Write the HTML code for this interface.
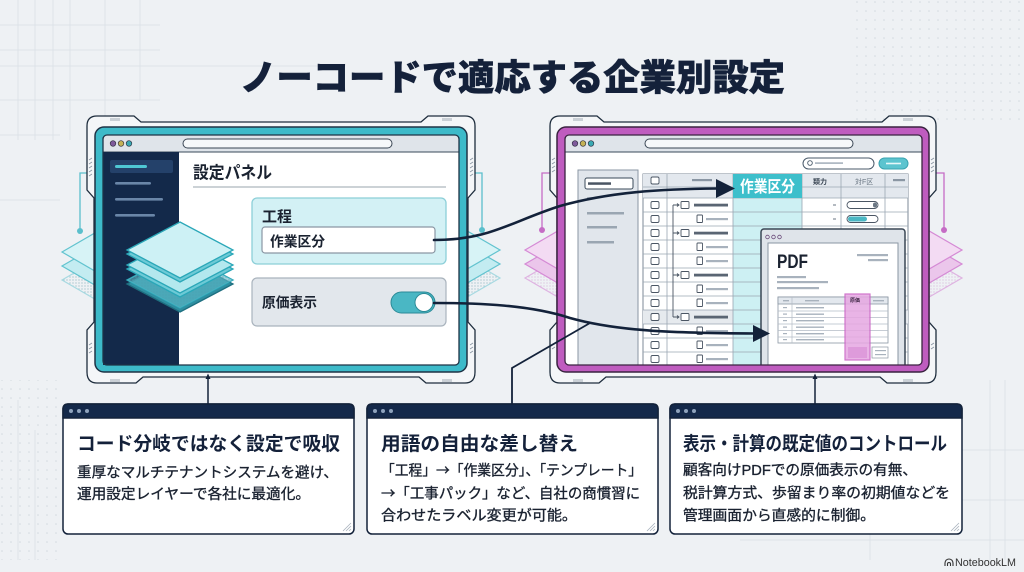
<!DOCTYPE html>
<html><head><meta charset="utf-8"><style>
html,body{margin:0;padding:0;background:#eef1f4;}
svg{display:block;}
text{font-family:"Liberation Sans","Noto Sans CJK JP",sans-serif;}
.body{stroke:#1a2230;stroke-width:0.35;}
.jp{font-family:"Noto Sans CJK JP",sans-serif;}
</style></head><body>
<svg width="1024" height="572" viewBox="0 0 1024 572" xmlns="http://www.w3.org/2000/svg">
<defs>
<pattern id="dots" width="9" height="9" patternUnits="userSpaceOnUse"><circle cx="2" cy="2" r="0.8" fill="#d3d9e0"/></pattern>
<pattern id="fine" width="3" height="3" patternUnits="userSpaceOnUse"><circle cx="1" cy="1" r="0.6" fill="#2f7f8e"/></pattern>
<pattern id="fineP" width="3" height="3" patternUnits="userSpaceOnUse"><circle cx="1" cy="1" r="0.6" fill="#c48bc4"/></pattern>
<clipPath id="rwin"><rect x="565" y="152" width="357" height="213"/></clipPath>
</defs>
<rect width="1024" height="572" fill="#eef1f4"/>
<!-- background grid -->
<g stroke="#dde2e8" stroke-width="1" fill="none">
<path d="M0,25H160M0,50H160M0,66H320M0,100H160M0,135H60M0,200H60M18,0V140M35,0V140M53,0V140M70,0V140M105,0V120M140,0V100M18,400V560M35,430V560"/>
<path d="M990,380V560M1005,380V560M870,440V560M860,450H1024M860,500H1024M740,540H1024"/>
</g>
<rect x="850" y="0" width="174" height="120" fill="url(#dots)"/>
<rect x="0" y="380" width="60" height="180" fill="url(#dots)"/>

<!-- side diamonds -->
<g stroke-width="1.2">
<g stroke="#62c3cf">
<polygon points="62,280 100,258 138,280 100,302" fill="url(#fine)" opacity="0.5"/>
<polygon points="62,266 100,244 138,266 100,288" fill="#c3ecf1"/>
<polygon points="62,252 100,230 138,252 100,274" fill="#d7f3f6"/>
<polygon points="424,278 462,256 500,278 462,300" fill="url(#fine)" opacity="0.5"/>
<polygon points="424,264 462,242 500,264 462,286" fill="#c3ecf1"/>
<polygon points="424,250 462,228 500,250 462,272" fill="#d7f3f6"/>
</g>
<g stroke="#d58ad5">
<polygon points="525,278 563,256 601,278 563,300" fill="url(#fineP)" opacity="0.6"/>
<polygon points="525,264 563,242 601,264 563,286" fill="#ebc6eb"/>
<polygon points="525,250 563,228 601,250 563,272" fill="#f3dbf3"/>
<polygon points="886,278 924,256 962,278 924,300" fill="url(#fineP)" opacity="0.6"/>
<polygon points="886,264 924,242 962,264 924,286" fill="#ebc6eb"/>
<polygon points="886,250 924,228 962,250 924,272" fill="#f3dbf3"/>
</g>
</g>
<!-- connectors with dots -->
<g fill="none" stroke-width="1.3">
<path d="M90,173H80V231" stroke="#5bbfcc"/>
<path d="M472,173H482V230" stroke="#5bbfcc"/>
<path d="M553,173H542V230" stroke="#c56cc5"/>
<path d="M933,173H944V230" stroke="#c56cc5"/>
</g>
<circle cx="80" cy="231" r="3" fill="#5bbfcc"/>
<circle cx="482" cy="230" r="3" fill="#5bbfcc"/>
<circle cx="542" cy="230" r="3" fill="#c56cc5"/>
<circle cx="944" cy="230" r="3" fill="#c56cc5"/>

<!-- bezels -->
<path d="M87,190 L87,126 Q87,116 97,116 L134,116 L141,122 L421,122 L428,116 L465,116 Q475,116 475,126 L475,190 L468,198 L468,322 L475,330 L475,372 Q475,383 465,383 L426,383 L419,377 L143,377 L136,383 L97,383 Q87,383 87,372 L87,330 L94,322 L94,198 Z" fill="#f4f6f8" stroke="#1e2d3d" stroke-width="1.3"/>
<path d="M550,190 L550,126 Q550,116 560,116 L597,116 L604,122 L882,122 L889,116 L926,116 Q936,116 936,126 L936,190 L929,198 L929,322 L936,330 L936,372 Q936,383 926,383 L887,383 L880,377 L606,377 L599,383 L560,383 Q550,383 550,372 L550,330 L557,322 L557,198 Z" fill="#f4f6f8" stroke="#1e2d3d" stroke-width="1.3"/>
<g stroke="#8a96a3" stroke-width="0.8">
<path d="M111,118v3M113,118v3M115,118v3M117,118v3M119,118v3M443,118v3M445,118v3M447,118v3M449,118v3M451,118v3"/>
<path d="M111,379v3M113,379v3M115,379v3M117,379v3M119,379v3M443,379v3M445,379v3M447,379v3M449,379v3M451,379v3"/>
<path d="M574,118v3M576,118v3M578,118v3M580,118v3M582,118v3M904,118v3M906,118v3M908,118v3M910,118v3M912,118v3"/>
<path d="M574,379v3M576,379v3M578,379v3M580,379v3M582,379v3M904,379v3M906,379v3M908,379v3M910,379v3M912,379v3"/>
<path d="M89,160l3,-2M89,164l3,-2M89,168l3,-2M89,172l3,-2M89,176l3,-2M470,160l3,-2M470,164l3,-2M470,168l3,-2M470,172l3,-2M470,176l3,-2M89,345l3,-2M89,349l3,-2M89,353l3,-2M470,345l3,-2M470,349l3,-2M470,353l3,-2"/>
<path d="M552,160l3,-2M552,164l3,-2M552,168l3,-2M552,172l3,-2M931,160l3,-2M931,164l3,-2M931,168l3,-2M931,172l3,-2M552,345l3,-2M552,349l3,-2M931,345l3,-2M931,349l3,-2"/>
</g>

<!-- frames -->
<rect x="95" y="127" width="372" height="245" rx="9" fill="#3dbac9" stroke="#1e3346" stroke-width="1.5"/>
<rect x="557" y="127" width="372" height="245" rx="9" fill="#bf5cbf" stroke="#3a2340" stroke-width="1.5"/>

<!-- LEFT WINDOW -->
<rect x="103" y="135" width="356" height="230" rx="4" fill="#ffffff"/>
<rect x="103" y="135" width="356" height="17" rx="4" fill="#dfe4ea"/>
<rect x="103" y="145" width="356" height="7" fill="#dfe4ea"/>
<line x1="103" y1="152" x2="459" y2="152" stroke="#3a4a5a" stroke-width="1"/>
<rect x="183" y="139" width="209" height="9" rx="4.5" fill="#f6f8fa" stroke="#3a4654" stroke-width="1"/>
<circle cx="113" cy="143.5" r="2.8" fill="#7e5a9a" stroke="#2a2a3a" stroke-width="0.6"/>
<circle cx="121" cy="143.5" r="2.8" fill="#c4b256" stroke="#2a2a3a" stroke-width="0.6"/>
<circle cx="129" cy="143.5" r="2.8" fill="#3aa9b3" stroke="#2a2a3a" stroke-width="0.6"/>
<rect x="103" y="152" width="76" height="213" fill="#13294a"/>
<rect x="110" y="160" width="63" height="13" rx="2" fill="#24416a"/>
<rect x="115" y="165" width="32" height="3" rx="1.5" fill="#4fc7d4"/>
<rect x="115" y="182" width="36" height="2.6" rx="1.3" fill="#6a86a8"/>
<rect x="115" y="198" width="48" height="2.6" rx="1.3" fill="#6a86a8"/>
<rect x="115" y="214" width="40" height="2.6" rx="1.3" fill="#6a86a8"/>
<rect x="103" y="135" width="356" height="230" rx="4" fill="none" stroke="#1e3346" stroke-width="1.3"/>

<text x="193" y="178.5" font-size="17" font-weight="bold" fill="#1a2230" textLength="79" lengthAdjust="spacingAndGlyphs">設定パネル</text>
<line x1="193" y1="187" x2="446" y2="187" stroke="#9aa4ae" stroke-width="1"/>
<rect x="252" y="198" width="194" height="66" rx="5" fill="#d3f1f5" stroke="#8ccfd8" stroke-width="1.3"/>
<text x="262" y="221.5" font-size="15" font-weight="bold" fill="#1a2230">工程</text>
<rect x="262" y="227" width="173" height="26" rx="3" fill="#ffffff" stroke="#8a96a3" stroke-width="1.2"/>
<text x="270" y="246.5" font-size="14" font-weight="bold" fill="#1a2230" textLength="55" lengthAdjust="spacingAndGlyphs">作業区分</text>
<rect x="252" y="278" width="194" height="48" rx="5" fill="#e2e7ec" stroke="#a9b3bd" stroke-width="1.2"/>
<text x="262" y="307.5" font-size="14" font-weight="bold" fill="#1a2230" textLength="55" lengthAdjust="spacingAndGlyphs">原価表示</text>
<rect x="391" y="292" width="44" height="21" rx="10.5" fill="#4ab7c4" stroke="#2b8a97" stroke-width="1"/>
<circle cx="424" cy="302.5" r="9" fill="#ffffff" stroke="#2b8a97" stroke-width="1"/>

<!-- layers stack -->
<g stroke-width="1.3">
<polygon points="127,284 180,256 233,284 180,312" fill="#2e8ea0" stroke="#1e6f80"/>
<polygon points="127,280 180,252 233,280 180,308" fill="url(#fine)" stroke="#2aa7b8"/>
<polygon points="127,280 180,252 233,280 180,308" fill="#5fb9c8" opacity="0.6"/>
<polygon points="127,269 180,241 233,269 180,297" fill="#6dcad6" stroke="#2aa7b8"/>
<polygon points="127,265 180,237 233,265 180,293" fill="#b3e8ee" stroke="#2aa7b8"/>
<polygon points="127,254 180,226 233,254 180,282" fill="#6dcad6" stroke="#2aa7b8"/>
<polygon points="127,250 180,222 233,250 180,278" fill="#cdf1f5" stroke="#2aa7b8"/>
</g>

<!-- RIGHT WINDOW -->
<rect x="565" y="135" width="357" height="230" rx="4" fill="#ffffff"/>
<rect x="565" y="135" width="357" height="17" rx="4" fill="#dfe4ea"/>
<rect x="565" y="145" width="357" height="7" fill="#dfe4ea"/>
<line x1="565" y1="152" x2="922" y2="152" stroke="#3a4a5a" stroke-width="1"/>
<rect x="645" y="139" width="208" height="9" rx="4.5" fill="#f6f8fa" stroke="#3a4654" stroke-width="1"/>
<circle cx="575" cy="143.5" r="2.8" fill="#7e5a9a" stroke="#2a2a3a" stroke-width="0.6"/>
<circle cx="583" cy="143.5" r="2.8" fill="#c4b256" stroke="#2a2a3a" stroke-width="0.6"/>
<circle cx="591" cy="143.5" r="2.8" fill="#3aa9b3" stroke="#2a2a3a" stroke-width="0.6"/>
<g clip-path="url(#rwin)">
<rect x="803" y="158" width="71" height="11" rx="5.5" fill="#ffffff" stroke="#4a5a6a" stroke-width="1"/>
<circle cx="810" cy="163" r="2.3" fill="none" stroke="#4a5a6a" stroke-width="0.9"/>
<rect x="815" y="162.3" width="28" height="1.6" fill="#a8b2bd"/>
<rect x="879" y="158" width="29" height="11" rx="5.5" fill="#5cc4cf" stroke="#3aa4b0" stroke-width="1"/>
<rect x="886" y="162.7" width="15" height="1.6" fill="#e6f7f9"/>
<!-- sidebar -->
<rect x="578" y="170" width="60" height="200" fill="#e1e6ec" stroke="#8a96a3" stroke-width="1"/>
<rect x="585" y="178" width="48" height="11" rx="2" fill="#ffffff" stroke="#3a4a5a" stroke-width="1"/>
<rect x="588" y="182.3" width="23" height="2.5" fill="#4a5563"/>
<rect x="587" y="197" width="9" height="2" fill="#a8b2bd"/>
<rect x="587" y="212" width="37" height="2.5" fill="#9aa6b2"/>
<rect x="587" y="226" width="30" height="2.5" fill="#9aa6b2"/>
<rect x="587" y="241" width="27" height="2.5" fill="#9aa6b2"/>
<!-- table -->
<rect x="643" y="174" width="265" height="196" fill="#ffffff" stroke="#7d8a97" stroke-width="1"/>
<rect x="643" y="174" width="265" height="24" fill="#e3e8ee"/>
<rect x="643" y="310" width="265" height="14" fill="#e6eaee"/>
<rect x="733" y="198" width="69" height="172" fill="#cdf0f3"/>
<g stroke="#9aa6b2" stroke-width="0.8">
<path d="M643,187H733M802,187H908M643,198H908M643,212H908M643,226H908M643,240H908M643,254H908M643,268H908M643,282H908M643,296H908M643,310H908M643,324H908M643,338H908M643,352H908"/>
<path d="M667,174V370M733,174V370M802,174V370M841,174V370M885,174V370"/>
</g>
<rect x="733" y="174" width="69" height="24" fill="#3dbfcb"/>
<text x="740" y="192" font-size="16" font-weight="bold" fill="#ffffff" textLength="55" lengthAdjust="spacingAndGlyphs">作業区分</text>
<rect x="651" y="177" width="8" height="7" rx="1.5" fill="#fff" stroke="#4a5563" stroke-width="0.9"/>
<rect x="692" y="179" width="20" height="2.2" fill="#8a96a3"/>
<text x="813" y="184" font-size="7" font-weight="bold" fill="#3a4654">類力</text>
<text x="855" y="184" font-size="7" fill="#6a7683">対F区</text>
<rect x="893" y="179" width="12" height="2.2" fill="#8a96a3"/>
<path d="M673,205V317" stroke="#4a5563" stroke-width="0.9" fill="none"/>
<g fill="#fff" stroke="#4a5563" stroke-width="0.9">
<rect x="651" y="201.5" width="8" height="7" rx="1.5"/><rect x="651" y="215.5" width="8" height="7" rx="1.5"/>
<rect x="651" y="229.5" width="8" height="7" rx="1.5"/><rect x="651" y="243.5" width="8" height="7" rx="1.5"/>
<rect x="651" y="257.5" width="8" height="7" rx="1.5"/><rect x="651" y="271.5" width="8" height="7" rx="1.5"/>
<rect x="651" y="285.5" width="8" height="7" rx="1.5"/><rect x="651" y="299.5" width="8" height="7" rx="1.5"/>
<rect x="651" y="313.5" width="8" height="7" rx="1.5"/><rect x="651" y="327.5" width="8" height="7" rx="1.5"/>
<rect x="651" y="341.5" width="8" height="7" rx="1.5"/><rect x="651" y="355.5" width="8" height="7" rx="1.5"/>
<rect x="681" y="201.5" width="8" height="7" rx="1"/><rect x="681" y="229.5" width="8" height="7" rx="1"/>
<rect x="681" y="271.5" width="8" height="7" rx="1"/><rect x="681" y="313.5" width="8" height="7" rx="1"/>
<rect x="697" y="215" width="5.5" height="7.5" rx="0.8"/><rect x="697" y="243" width="5.5" height="7.5" rx="0.8"/>
<rect x="697" y="257" width="5.5" height="7.5" rx="0.8"/><rect x="697" y="285" width="5.5" height="7.5" rx="0.8"/>
<rect x="697" y="299" width="5.5" height="7.5" rx="0.8"/><rect x="697" y="327" width="5.5" height="7.5" rx="0.8"/>
<rect x="697" y="341" width="5.5" height="7.5" rx="0.8"/><rect x="697" y="355" width="5.5" height="7.5" rx="0.8"/>
</g>
<g stroke="#4a5563" stroke-width="0.9" fill="none">
<path d="M673,205H679M677,203.5L679,205L677,206.5M673,233H679M677,231.5L679,233L677,234.5M673,275H679M677,273.5L679,275L677,276.5M673,317H679M677,315.5L679,317L677,318.5"/>
</g>
<g fill="#5a6573">
<rect x="694" y="203.7" width="34" height="2.8"/><rect x="694" y="231.7" width="34" height="2.8"/>
<rect x="694" y="273.7" width="34" height="2.8"/><rect x="694" y="315.7" width="34" height="2.8"/>
</g>
<g fill="#a8b2bd">
<rect x="706" y="218" width="22" height="2.2"/><rect x="706" y="246" width="22" height="2.2"/>
<rect x="706" y="260" width="22" height="2.2"/><rect x="706" y="288" width="22" height="2.2"/>
<rect x="706" y="302" width="22" height="2.2"/><rect x="706" y="330" width="22" height="2.2"/>
<rect x="706" y="344" width="22" height="2.2"/><rect x="706" y="358" width="22" height="2.2"/>
</g>
<rect x="833" y="204.5" width="3" height="1" fill="#6a7683"/><rect x="833" y="218.5" width="3" height="1" fill="#6a7683"/>
<rect x="847" y="201.5" width="31" height="7" rx="3.5" fill="#fff" stroke="#4a5563" stroke-width="0.9"/>
<rect x="873" y="202.5" width="4" height="5" rx="2" fill="#6a7683"/>
<rect x="847" y="215.5" width="31" height="7" rx="3.5" fill="#fff" stroke="#4a5563" stroke-width="0.9"/>
<rect x="848" y="216.5" width="19" height="5" rx="2.5" fill="#4ab7c4"/>
<!-- PDF window -->
<rect x="761" y="229" width="144" height="145" rx="3" fill="#dfe4ea" stroke="#3a4654" stroke-width="1.5"/>
<circle cx="767.5" cy="237" r="1.8" fill="none" stroke="#6a4a7a" stroke-width="0.8"/>
<circle cx="773.5" cy="237" r="1.8" fill="none" stroke="#6a4a7a" stroke-width="0.8"/>
<circle cx="779.5" cy="237" r="1.8" fill="none" stroke="#6a4a7a" stroke-width="0.8"/>
<rect x="768" y="243" width="130" height="130" fill="#ffffff" stroke="#8a96a3" stroke-width="1"/>
<text x="777" y="268" font-size="19" font-weight="bold" fill="#1a2230" textLength="31" lengthAdjust="spacingAndGlyphs">PDF</text>
<rect x="857" y="254" width="31" height="2.2" fill="#a8b2bd"/>
<rect x="868" y="259" width="20" height="2.2" fill="#a8b2bd"/>
<rect x="777" y="276" width="29" height="2.2" fill="#a8b2bd"/>
<rect x="777" y="281" width="51" height="2.2" fill="#a8b2bd"/>
<rect x="777" y="287" width="42" height="2.2" fill="#a8b2bd"/>
<rect x="778" y="297" width="110" height="46" fill="#fff" stroke="#8a96a3" stroke-width="0.8"/>
<rect x="778" y="297" width="110" height="7" fill="#e3e8ee" stroke="#8a96a3" stroke-width="0.8"/>
<g stroke="#b4bcc6" stroke-width="0.7"><path d="M778,311H888M778,317.5H888M778,324H888M778,330.5H888M778,337H888M792,297V343"/></g>
<g fill="#a8b2bd"><rect x="783" y="300" width="6" height="1.4"/><rect x="805" y="300" width="14" height="1.4"/><rect x="873" y="300" width="11" height="1.4"/>
<rect x="783" y="307" width="4" height="1.2"/><rect x="796" y="307" width="28" height="1.4"/>
<rect x="783" y="313.5" width="4" height="1.2"/><rect x="796" y="313.5" width="28" height="1.4"/>
<rect x="783" y="320" width="4" height="1.2"/><rect x="796" y="320" width="28" height="1.4"/>
<rect x="783" y="326.5" width="4" height="1.2"/><rect x="796" y="326.5" width="28" height="1.4"/>
<rect x="783" y="333" width="4" height="1.2"/><rect x="796" y="333" width="28" height="1.4"/>
<rect x="783" y="339" width="4" height="1.2"/><rect x="796" y="339" width="28" height="1.4"/></g>
<rect x="872" y="347" width="16" height="11" fill="#fff" stroke="#8a96a3" stroke-width="0.7"/>
<rect x="875" y="350" width="11" height="1.2" fill="#a8b2bd"/><rect x="875" y="354" width="11" height="1.2" fill="#a8b2bd"/>
<rect x="845" y="294" width="25" height="66" fill="#e6a7e2" opacity="0.85" stroke="#c85fc4" stroke-width="1.2"/>
<rect x="848" y="347" width="19" height="11" fill="#d890d5" opacity="0.7"/>
<text x="850" y="302" font-size="5" font-weight="bold" fill="#3a2340">原価</text>
</g>
<rect x="565" y="135" width="357" height="230" rx="4" fill="none" stroke="#3a2340" stroke-width="1.3"/>

<!-- arrows -->
<g fill="none" stroke="#13223a" stroke-linecap="round">
<path d="M434,240 C490,240 510,222 560,206 C610,192 660,189 718,188.5" stroke-width="2.6"/>
<path d="M434,303 C480,303 530,305 570,318 C620,332 680,333 755,333.5" stroke-width="2.6"/>
<path d="M512,404 L512,368 L590,323" stroke-width="1.8"/>
<path d="M208,404 V377" stroke-width="1.5"/>
<path d="M815,404 V377" stroke-width="1.5"/>
</g>
<polygon points="716,179 735,188.5 716,198" fill="#13223a"/>
<polygon points="753,325 770,333.5 753,342" fill="#13223a"/>
<polygon points="205.5,379 208,373.5 210.5,379" fill="#13223a"/>
<polygon points="812.5,379 815,373.5 817.5,379" fill="#13223a"/>

<!-- title -->
<text x="240" y="90" font-size="36" font-weight="900" fill="#14213a" stroke="#14213a" stroke-width="0.6" textLength="545" lengthAdjust="spacingAndGlyphs">ノーコードで適応する企業別設定</text>

<!-- cards -->
<g>
<rect x="63" y="404" width="291" height="130" rx="5" fill="#ffffff" stroke="#13223a" stroke-width="1.5"/>
<path d="M63,418 V409 Q63,404 68,404 H349 Q354,404 354,409 V418 Z" fill="#14294a" stroke="#13223a" stroke-width="1.5"/>
<circle cx="71" cy="411" r="2" fill="#8fa3bd"/><circle cx="79" cy="411" r="2" fill="#8fa3bd"/><circle cx="87" cy="411" r="2" fill="#8fa3bd"/>
<path d="M343,531l8,-8M346,531l5,-5M349,531l2,-2" stroke="#a8b2bd" stroke-width="0.8"/>
<text x="77" y="450" font-size="19" font-weight="bold" fill="#14213a" textLength="263" lengthAdjust="spacingAndGlyphs">コード分岐ではなく設定で吸収</text>
<text class="body" x="77" y="477.5" font-size="14.5" fill="#1a2230" textLength="261" lengthAdjust="spacingAndGlyphs">重厚なマルチテナントシステムを避け、</text>
<text class="body" x="77" y="499" font-size="14.5" fill="#1a2230" textLength="233" lengthAdjust="spacingAndGlyphs">運用設定レイヤーで各社に最適化。</text>
</g>
<g>
<rect x="367" y="404" width="291" height="130" rx="5" fill="#ffffff" stroke="#13223a" stroke-width="1.5"/>
<path d="M367,418 V409 Q367,404 372,404 H653 Q658,404 658,409 V418 Z" fill="#14294a" stroke="#13223a" stroke-width="1.5"/>
<circle cx="375" cy="411" r="2" fill="#8fa3bd"/><circle cx="383" cy="411" r="2" fill="#8fa3bd"/><circle cx="391" cy="411" r="2" fill="#8fa3bd"/>
<path d="M647,531l8,-8M650,531l5,-5M653,531l2,-2" stroke="#a8b2bd" stroke-width="0.8"/>
<text x="381" y="450" font-size="19" font-weight="bold" fill="#14213a" textLength="197" lengthAdjust="spacingAndGlyphs">用語の自由な差し替え</text>
<text class="body jp" x="381" y="475.5" font-size="14.5" fill="#1a2230" textLength="261" lengthAdjust="spacingAndGlyphs">「工程」→「作業区分」、「テンプレート」</text>
<text class="body jp" x="381" y="498.5" font-size="14.5" fill="#1a2230" textLength="259" lengthAdjust="spacingAndGlyphs">→「工事パック」など、自社の商慣習に</text>
<text class="body" x="381" y="520.5" font-size="14.5" fill="#1a2230" textLength="196" lengthAdjust="spacingAndGlyphs">合わせたラベル変更が可能。</text>
</g>
<g>
<rect x="670" y="404" width="292" height="130" rx="5" fill="#ffffff" stroke="#13223a" stroke-width="1.5"/>
<path d="M670,418 V409 Q670,404 675,404 H957 Q962,404 962,409 V418 Z" fill="#14294a" stroke="#13223a" stroke-width="1.5"/>
<circle cx="678" cy="411" r="2" fill="#8fa3bd"/><circle cx="686" cy="411" r="2" fill="#8fa3bd"/><circle cx="694" cy="411" r="2" fill="#8fa3bd"/>
<path d="M951,531l8,-8M954,531l5,-5M957,531l2,-2" stroke="#a8b2bd" stroke-width="0.8"/>
<text x="683" y="450" font-size="19" font-weight="bold" fill="#14213a" textLength="264" lengthAdjust="spacingAndGlyphs">表示・計算の既定値のコントロール</text>
<text class="body" x="683" y="475" font-size="14.5" fill="#1a2230" textLength="234" lengthAdjust="spacingAndGlyphs">顧客向けPDFでの原価表示の有無、</text>
<text class="body" x="683" y="498" font-size="14.5" fill="#1a2230" textLength="267" lengthAdjust="spacingAndGlyphs">税計算方式、歩留まり率の初期値などを</text>
<text class="body" x="683" y="520.5" font-size="14.5" fill="#1a2230" textLength="192" lengthAdjust="spacingAndGlyphs">管理画面から直感的に制御。</text>
</g>

<!-- NotebookLM -->
<g fill="none" stroke="#333" stroke-width="1.1">
<path d="M945,566 V563 A4,4 0 0 1 953,563 V566"/>
<path d="M947.5,566 V564 A1.5,1.5 0 0 1 950.5,564 V566"/>
</g>
<text x="955" y="566" font-size="11" fill="#333" textLength="61" lengthAdjust="spacingAndGlyphs">NotebookLM</text>
</svg>
</body></html>
